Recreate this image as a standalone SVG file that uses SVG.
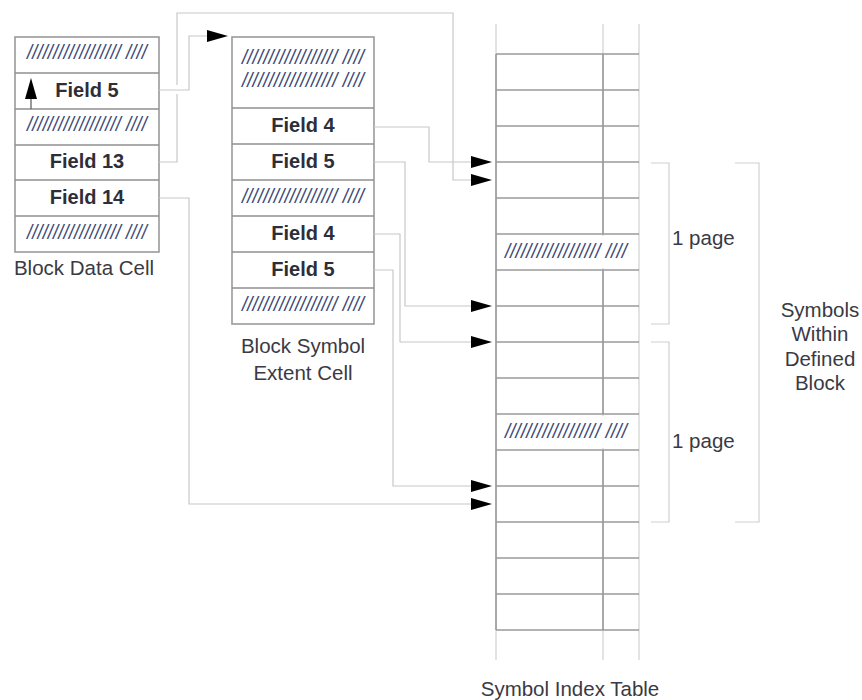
<svg xmlns="http://www.w3.org/2000/svg" width="862" height="700" viewBox="0 0 862 700">
<style>
.box{fill:#fff;stroke:#9a9a9a;stroke-width:1.6}
.sep{stroke:#8f8f8f;stroke-width:1.6}
.fld{font-family:"Liberation Sans",Arial,sans-serif;font-size:20px;font-weight:bold;fill:#2e2e38;text-anchor:middle}
.hat{font-family:"Liberation Sans",Arial,sans-serif;font-size:20px;font-style:italic;fill:#3c4a78;text-anchor:middle}
.lbl{font-family:"Liberation Sans",Arial,sans-serif;font-size:20.5px;fill:#3a3a44}
.mid{text-anchor:middle}
.con{fill:none;stroke:#c8c8c8;stroke-width:1.2}
.brk{fill:none;stroke:#d0d0d0;stroke-width:1.2}
.tl{stroke:#9a9a9a;stroke-width:1.6}
.tlight{stroke:#d0d0d0;stroke-width:1.2}
.ah{fill:#000}
</style>

<g id="block-data-cell">
<rect class="box" x="15" y="37" width="144" height="215"/>
<line class="sep" x1="15" y1="73" x2="159" y2="73"/>
<line class="sep" x1="15" y1="109" x2="159" y2="109"/>
<line class="sep" x1="15" y1="145" x2="159" y2="145"/>
<line class="sep" x1="15" y1="180" x2="159" y2="180"/>
<line class="sep" x1="15" y1="216" x2="159" y2="216"/>
<text class="hat" x="87" y="59" textLength="120" lengthAdjust="spacingAndGlyphs">////////////////// ////</text>
<text class="fld" x="87" y="97">Field 5</text>
<text class="hat" x="87" y="131" textLength="120" lengthAdjust="spacingAndGlyphs">////////////////// ////</text>
<text class="fld" x="87" y="168">Field 13</text>
<text class="fld" x="87" y="204">Field 14</text>
<text class="hat" x="87" y="239" textLength="120" lengthAdjust="spacingAndGlyphs">////////////////// ////</text>
<line x1="31" y1="98" x2="31" y2="109" stroke="#555" stroke-width="1.2"/>
<polygon class="ah" points="31,78 25,99 37,99"/>
<text class="lbl mid" x="84" y="275">Block Data Cell</text>
</g>

<g id="block-symbol-extent-cell">
<rect class="box" x="232" y="37" width="142" height="287"/>
<line class="sep" x1="232" y1="108" x2="374" y2="108"/>
<line class="sep" x1="232" y1="144" x2="374" y2="144"/>
<line class="sep" x1="232" y1="180" x2="374" y2="180"/>
<line class="sep" x1="232" y1="216" x2="374" y2="216"/>
<line class="sep" x1="232" y1="252" x2="374" y2="252"/>
<line class="sep" x1="232" y1="288" x2="374" y2="288"/>
<text class="hat" x="303" y="64" textLength="122" lengthAdjust="spacingAndGlyphs">////////////////// ////</text>
<text class="hat" x="303" y="87" textLength="122" lengthAdjust="spacingAndGlyphs">////////////////// ////</text>
<text class="fld" x="303" y="132">Field 4</text>
<text class="fld" x="303" y="168">Field 5</text>
<text class="hat" x="303" y="203" textLength="122" lengthAdjust="spacingAndGlyphs">////////////////// ////</text>
<text class="fld" x="303" y="240">Field 4</text>
<text class="fld" x="303" y="276">Field 5</text>
<text class="hat" x="303" y="311" textLength="122" lengthAdjust="spacingAndGlyphs">////////////////// ////</text>
<text class="lbl mid" x="303" y="353">Block Symbol</text>
<text class="lbl mid" x="303" y="380">Extent Cell</text>
</g>

<g id="symbol-index-table">
<line class="tlight" x1="496" y1="24" x2="496" y2="660"/>
<line class="tlight" x1="603" y1="24" x2="603" y2="660"/>
<line class="tlight" x1="639" y1="24" x2="639" y2="660"/>
<line class="tl" x1="496" y1="54" x2="496" y2="630"/>
<line class="tl" x1="603" y1="54" x2="603" y2="234"/>
<line class="tl" x1="603" y1="270" x2="603" y2="414"/>
<line class="tl" x1="603" y1="450" x2="603" y2="630"/>
<rect x="498" y="236" width="140" height="32" fill="#fff"/>
<rect x="498" y="416" width="140" height="32" fill="#fff"/>
<g class="tl">
<line x1="496" y1="54" x2="639" y2="54"/>
<line x1="496" y1="90" x2="639" y2="90"/>
<line x1="496" y1="126" x2="639" y2="126"/>
<line x1="496" y1="162" x2="639" y2="162"/>
<line x1="496" y1="198" x2="639" y2="198"/>
<line x1="496" y1="234" x2="639" y2="234"/>
<line x1="496" y1="270" x2="639" y2="270"/>
<line x1="496" y1="306" x2="639" y2="306"/>
<line x1="496" y1="342" x2="639" y2="342"/>
<line x1="496" y1="378" x2="639" y2="378"/>
<line x1="496" y1="414" x2="639" y2="414"/>
<line x1="496" y1="450" x2="639" y2="450"/>
<line x1="496" y1="486" x2="639" y2="486"/>
<line x1="496" y1="522" x2="639" y2="522"/>
<line x1="496" y1="558" x2="639" y2="558"/>
<line x1="496" y1="594" x2="639" y2="594"/>
<line x1="496" y1="630" x2="639" y2="630"/>
</g>
<text class="hat" x="566" y="258" textLength="122" lengthAdjust="spacingAndGlyphs">////////////////// ////</text>
<text class="hat" x="566" y="438" textLength="122" lengthAdjust="spacingAndGlyphs">////////////////// ////</text>
<text class="lbl mid" x="570" y="696">Symbol Index Table</text>
</g>

<g id="page-brackets">
<path class="brk" d="M651,163 H669 V324 H651"/>
<path class="brk" d="M651,342 H669 V522 H651"/>
<path class="brk" d="M735,163 H759 V522 H735"/>
<text class="lbl" x="672" y="245">1 page</text>
<text class="lbl" x="672" y="448">1 page</text>
<text class="lbl mid" x="820" y="317">Symbols</text>
<text class="lbl mid" x="820" y="341">Within</text>
<text class="lbl mid" x="820" y="366">Defined</text>
<text class="lbl mid" x="820" y="390">Block</text>
</g>

<g id="connectors">
<path class="con" d="M159,90 H189 V36 H210"/>
<polygon class="ah" points="207,30 228,36 207,42"/>
<path class="con" d="M159,162 H177 V94"/>
<path class="con" d="M177,85 V13 H453 V180 H474"/>
<polygon class="ah" points="471,174 492,180 471,186"/>
<path class="con" d="M374,127 H429 V162 H474"/>
<polygon class="ah" points="471,156 492,162 471,168"/>
<path class="con" d="M374,162 H405 V306 H474"/>
<polygon class="ah" points="471,300 492,306 471,312"/>
<path class="con" d="M374,234 H400 V342 H474"/>
<polygon class="ah" points="471,336 492,342 471,348"/>
<path class="con" d="M374,270 H393 V486 H474"/>
<polygon class="ah" points="471,480 492,486 471,492"/>
<path class="con" d="M159,198 H189 V504 H474"/>
<polygon class="ah" points="471,498 492,504 471,510"/>
</g>
</svg>
